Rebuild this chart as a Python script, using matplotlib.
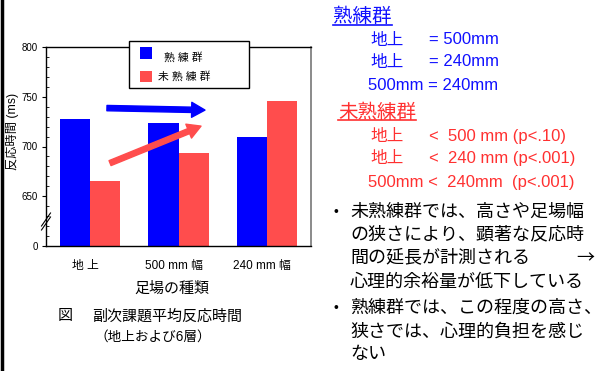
import matplotlib
matplotlib.use('Agg')
import matplotlib.pyplot as plt
import numpy as np
from matplotlib.lines import Line2D
from matplotlib.patches import Rectangle
from matplotlib.transforms import ScaledTranslation
from matplotlib.ticker import MultipleLocator

plt.rcParams['font.family'] = ['Liberation Sans', 'Noto Sans CJK JP']

# ---- data ----
categories = ['地 上', '500 mm 幅', '240 mm 幅']
series_names = ['熟 練 群', '未 熟 練 群']
skilled = [727.5, 723.5, 709.5]
unskilled = [665, 693, 745.5]
y_ticks = [600, 650, 700, 750, 800]
y_tick_labels = ['0', '650', '700', '750', '800']
x_label = '足場の種類'
y_label = '反応時間 (ms)'
caption1 = '副次課題平均反応時間'
caption2 = '（地上および6層）'

BLUE = '#0000FF'
RED = '#FF4D4D'
RED_TXT = '#FF3030'
BLUE_TXT = '#1010FF'

W, H = 606, 371
fig = plt.figure(figsize=(W / 100, H / 100), dpi=100)


def fx(px):
    return px / W


def fy(py):
    return 1 - py / H


ax = fig.add_axes([fx(46), fy(246), fx(311) - fx(46), fy(47) - fy(246)])
x = np.arange(len(categories))
w = 0.34
ax.bar(x - w / 2, skilled, w, color=BLUE, linewidth=0)
ax.bar(x + w / 2, unskilled, w, color=RED, linewidth=0)
ax.set_xlim(-0.5, 2.5)
ax.set_ylim(600, 800)
ax.set_yticks(y_ticks)
ax.set_yticklabels(y_tick_labels, fontsize=7)
ax.yaxis.set_minor_locator(MultipleLocator(10))
ax.tick_params(axis='y', which='major', direction='out', length=3, width=0.8, pad=3)
ax.tick_params(axis='y', which='minor', direction='in', length=2, width=0.6)
ax.set_xticks(x)
ax.set_xticklabels(categories, fontsize=8.5)
ax.tick_params(axis='x', length=0, pad=10)
for lab in ax.get_xticklabels():
    lab.set_transform(lab.get_transform() + ScaledTranslation(-5 / 100, 0, fig.dpi_scale_trans))
for s in ['left', 'bottom', 'top']:
    ax.spines[s].set_color('black')
    ax.spines[s].set_linewidth(1)
ax.spines['right'].set_color('#777777')
ax.spines['right'].set_linewidth(1.2)

# trend arrows
trend_arrows = [((0.19, 738.6), (1.30, 736.6), BLUE), ((0.225, 683.3), (1.255, 720.5), RED)]
for start, tip, col in trend_arrows:
    ax.annotate('', xy=tip, xytext=start,
                arrowprops=dict(arrowstyle='simple,head_width=0.9,head_length=0.8,tail_width=0.32',
                                mutation_scale=12, color=col, shrinkA=0, shrinkB=0))

# axis break marks
for dy in (0, 4):
    fig.add_artist(Line2D([fx(41.5), fx(50.5)], [fy(226 + dy), fy(213 + dy)], color='black', lw=0.8))

# axis labels / caption
fig.text(fx(172), fy(289), x_label, fontsize=10.8, ha='center', va='center')
fig.text(fx(12.5), fy(131), y_label, fontsize=8.8, rotation=90, ha='center', va='center')
fig.text(fx(58), fy(316), '図', fontsize=10.8, ha='left', va='center')
fig.text(fx(92), fy(316), caption1, fontsize=10.8, ha='left', va='center')
fig.text(fx(153), fy(337), caption2, fontsize=9.8, ha='center', va='center')

# legend (custom box)
fig.add_artist(Rectangle((fx(129), fy(88)), fx(249) - fx(129), fy(41) - fy(88),
                         transform=fig.transFigure, facecolor='white', edgecolor='black', lw=1, zorder=5))
fig.add_artist(Rectangle((fx(140), fy(59)), fx(152) - fx(140), fy(47) - fy(59),
                         transform=fig.transFigure, facecolor=BLUE, edgecolor='none', zorder=6))
fig.add_artist(Rectangle((fx(140), fy(82)), fx(152) - fx(140), fy(71) - fy(82),
                         transform=fig.transFigure, facecolor=RED, edgecolor='none', zorder=6))
fig.text(fx(164), fy(57.5), series_names[0], fontsize=7.8, ha='left', va='center', zorder=7)
fig.text(fx(158), fy(76.5), series_names[1], fontsize=7.8, ha='left', va='center', zorder=7)

# left border of slide
fig.add_artist(Line2D([fx(2), fx(2)], [0, 1], color='black', lw=2.5))

# right text panel
underlined = []
t = fig.text(fx(333), fy(17), '熟練群', fontsize=14, color=BLUE_TXT, ha='left', va='center')
underlined.append((t, BLUE_TXT, 25))
fig.text(fx(370), fy(40), '地上', fontsize=12, color=BLUE_TXT, ha='left', va='center')
fig.text(fx(429), fy(40), '= 500mm', fontsize=12, color=BLUE_TXT, ha='left', va='center')
fig.text(fx(370), fy(62), '地上', fontsize=12, color=BLUE_TXT, ha='left', va='center')
fig.text(fx(429), fy(62), '= 240mm', fontsize=12, color=BLUE_TXT, ha='left', va='center')
fig.text(fx(368), fy(86), '500mm = 240mm', fontsize=12, color=BLUE_TXT, ha='left', va='center')

t = fig.text(fx(338), fy(113), '未熟練群', fontsize=14, color=RED_TXT, ha='left', va='center')
underlined.append((t, RED_TXT, 120))
fig.text(fx(370), fy(137), '地上', fontsize=12, color=RED_TXT, ha='left', va='center')
fig.text(fx(429), fy(137), '<  500 mm (p<.10)', fontsize=12, color=RED_TXT, ha='left', va='center')
fig.text(fx(370), fy(159), '地上', fontsize=12, color=RED_TXT, ha='left', va='center')
fig.text(fx(429), fy(159), '<  240 mm (p<.001)', fontsize=12, color=RED_TXT, ha='left', va='center')
fig.text(fx(368), fy(182), '500mm <  240mm  (p<.001)', fontsize=12, color=RED_TXT, ha='left', va='center')

bullet_lines = [
    (212, True, '未熟練群では、高さや足場幅'),
    (235, False, 'の狭さにより、顕著な反応時'),
    (258, False, '間の延長が計測される'),
    (282, False, '心理的余裕量が低下している'),
    (308, True, '熟練群では、この程度の高さ、'),
    (332, False, '狭さでは、心理的負担を感じ'),
    (355, False, 'ない'),
]
for yy, bul, txt in bullet_lines:
    if bul:
        fig.text(fx(333), fy(yy), '•', fontsize=10, ha='left', va='center')
    fig.text(fx(350), fy(yy), txt, fontsize=13, ha='left', va='center')
fig.text(fx(576), fy(258), '→', fontsize=13, ha='left', va='center', family=['Noto Sans CJK JP'])

fig.canvas.draw()
r = fig.canvas.get_renderer()
for t, col, uy in underlined:
    bb = t.get_window_extent(r)
    fig.add_artist(Line2D([bb.x0 / W, bb.x1 / W], [fy(uy), fy(uy)], color=col, lw=1.2))

fig.savefig('out.png', dpi=100)
